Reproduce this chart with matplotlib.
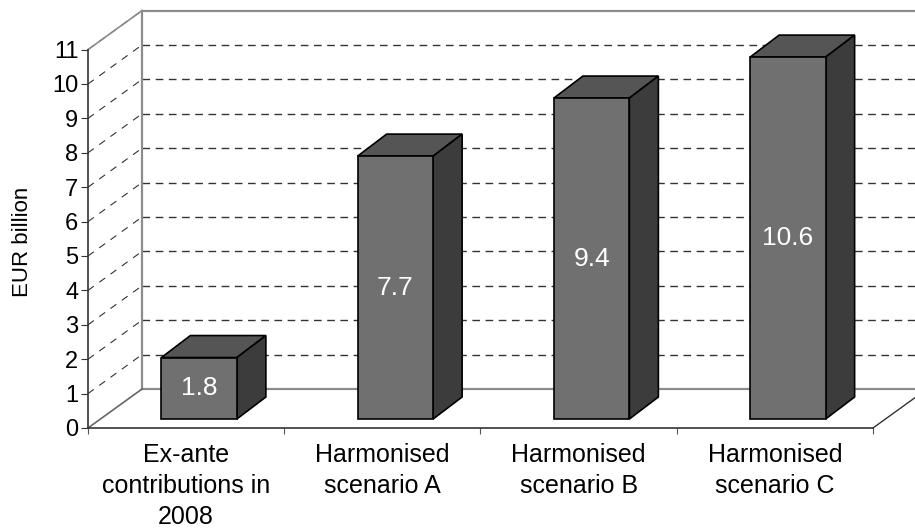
import matplotlib as mpl
import matplotlib.pyplot as plt
import numpy as np

mpl.use("Agg")
plt.rcParams["font.family"] = "sans-serif"
plt.rcParams["font.sans-serif"] = ["Liberation Sans"]

categories = [
    "Ex-ante\ncontributions in\n2008",
    "Harmonised\nscenario A",
    "Harmonised\nscenario B",
    "Harmonised\nscenario C",
]
values = [1.8, 7.7, 9.4, 10.6]
value_labels = ["1.8", "7.7", "9.4", "10.6"]
y_ticks = list(range(0, 12))

W, H = 915, 528
# plot box in pixels
X0, X1 = 88, 873
Y0, Y1 = 428, 49.6

fig = plt.figure(figsize=(W / 100, H / 100), dpi=100)
ax = fig.add_axes([X0 / W, 1 - Y0 / H, (X1 - X0) / W, (Y0 - Y1) / H])
ax.set_xlim(0, 4)
ax.set_ylim(0, 11)

px = 4 / (X1 - X0)  # x units per pixel
py = 11 / (Y0 - Y1)  # y units per pixel
wall_dx, wall_dy = 54 * px, 39 * py
bar_dx, bar_dy = 13 * px, 9 * py
side_dx, side_dy = 29 * px, 22 * py
bar_w = 75.5 * px
x_end = 4 + 42 * px

wall_col = "#8c8c8c"
grid_col = "#333333"

# gridlines, back wall and side wall
for t in y_ticks[1:]:
    if t < 11:
        ax.plot([wall_dx, x_end], [t + wall_dy] * 2, color=grid_col, lw=1,
                dashes=(5.5, 4), clip_on=False, zorder=1)
    ax.plot([0, wall_dx], [t, t + wall_dy], color=grid_col, lw=0.8,
            dashes=(6.5, 6), clip_on=False, zorder=1)

ax.plot([0, wall_dx], [11, 11 + wall_dy], color=wall_col, lw=1.2, clip_on=False, zorder=2)
ax.plot([wall_dx, wall_dx], [wall_dy, 11 + wall_dy], color=wall_col, lw=1.6, clip_on=False, zorder=2)
ax.plot([wall_dx, x_end], [11 + wall_dy] * 2, color=wall_col, lw=1.6, clip_on=False, zorder=2)
ax.plot([wall_dx, x_end], [wall_dy, wall_dy], color=wall_col, lw=1.6, clip_on=False, zorder=2)
ax.plot([0, wall_dx], [0, wall_dy], color="#666666", lw=1.2, clip_on=False, zorder=2)
ax.plot([4, x_end], [0, 42 / 54 * wall_dy], color="#333333", lw=1, clip_on=False, zorder=2)

# bars
for i, v in enumerate(values):
    left = i + 0.5 - bar_w / 2 + bar_dx
    right = left + bar_w
    base = bar_dy
    top = base + v * 0.9925
    ax.fill([left, right, right + side_dx, left + side_dx],
            [top, top, top + side_dy, top + side_dy],
            facecolor="#555555", edgecolor="black", lw=1.2, zorder=3, clip_on=False)
    ax.fill([right, right + side_dx, right + side_dx, right],
            [base, base + side_dy, top + side_dy, top],
            facecolor="#3c3c3c", edgecolor="black", lw=1.2, zorder=3, clip_on=False)
    ax.fill([left, right, right, left], [base, base, top, top],
            facecolor="#707070", edgecolor="black", lw=1.2, zorder=4, clip_on=False)
    ax.text((left + right) / 2, (base + top) / 2, value_labels[i], color="white",
            fontsize=19, ha="center", va="center", zorder=5)

for s in ["top", "right"]:
    ax.spines[s].set_visible(False)
for s in ["left", "bottom"]:
    ax.spines[s].set_color("#333333")
    ax.spines[s].set_linewidth(1.2)

ax.set_yticks(y_ticks)
ax.set_yticklabels([str(t) for t in y_ticks], fontsize=17)
ax.tick_params(axis="y", length=5, width=0.8, color="#333333", pad=2)
ax.set_xticks(range(0, 5))
ax.set_xticklabels([])
ax.tick_params(axis="x", which="major", length=4.5, width=0.8, color="#555555")
ax.set_xticks(np.arange(4) + 0.5, minor=True)
ax.set_xticklabels(categories, minor=True, fontsize=18, linespacing=1.37)
ax.tick_params(axis="x", which="minor", length=0, pad=11)

fig.text(23 / W, 1 - 242 / H, "EUR billion", rotation=90, fontsize=16,
         ha="center", va="center")

plt.savefig("out.png", dpi=100)
